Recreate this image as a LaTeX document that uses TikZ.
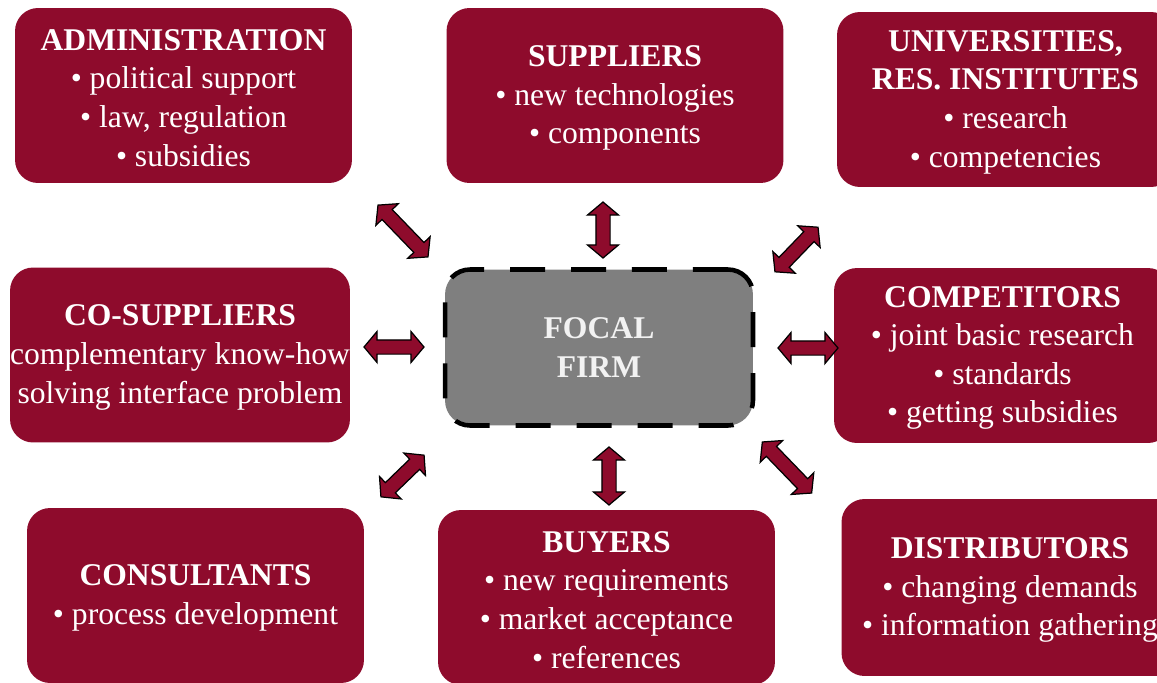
\documentclass[tikz,border=0pt]{standalone}
\usepackage{fontspec}
\setmainfont{Liberation Serif}
\usetikzlibrary{shapes.arrows}
\definecolor{firmred}{HTML}{8E0B2C}
\definecolor{focalgray}{HTML}{7F7F7F}
% heading line of a partner box (strut keeps the text block low enough)
\newcommand{\partyhead}[1]{\rule{0pt}{14.7pt}\textbf{#1}}

\begin{document}
\begin{tikzpicture}[
    x=0.02cm, y=-0.02cm, % one unit = one pixel of the layout
    font=\fontsize{18}{22}\selectfont,
    % --- STYLES ---
    party_box/.style={
        fill=firmred,
        rounded corners=0.46cm,
        minimum width=6.74cm, minimum height=3.5cm,
        inner sep=0pt,
        text=white, align=center
    },
    focal_box/.style={
        fill=focalgray, draw=black,
        line width=2.6pt, dash pattern=on 0.7cm off 0.52cm,
        rounded corners=0.5cm,
        minimum width=6.16cm, minimum height=3.12cm,
        text=white!95!black, align=center,
        font=\fontsize{18}{22}\selectfont\bfseries
    },
    link_arrow/.style={
        double arrow, draw=black, fill=firmred, line width=0.7pt,
        inner xsep=0pt, inner ysep=0.13cm, minimum width=0.6cm,
        double arrow head extend=0.17cm, double arrow tip angle=100
    }
]

% --- PAGE ---
\clip (0,0) rectangle (1157,683);

% --- PARTNER BOXES ---
% Top row
\node[party_box] (Adm) at (183.5,95.5) {%
    \partyhead{ADMINISTRATION}\\ • political support\\ • law, regulation\\ • subsidies};
\node[party_box] (Sup) at (615,95.5) {%
    \partyhead{SUPPLIERS}\\ • new technologies\\ • components};
\node[party_box] (Uni) at (1005.5,99.5) {%
    \partyhead{UNIVERSITIES,}\\ \textbf{RES. INSTITUTES}\\ • research\\ • competencies};
% Middle row
\node[party_box] (CoSup) at (180,355) {%
    \partyhead{CO-SUPPLIERS}\\ complementary know-how\\ solving interface problem};
\node[party_box] (Comp) at (1002.5,355.5) {%
    \partyhead{COMPETITORS}\\ • joint basic research\\ • standards\\ • getting subsidies};
% Bottom row
\node[party_box] (Cons) at (195.5,595.5) {%
    \partyhead{CONSULTANTS}\\ • process development};
\node[party_box] (Buy) at (606.5,597.5) {%
    \partyhead{BUYERS}\\ • new requirements\\ • market acceptance\\ • references};
\node[party_box, minimum height=3.54cm] (Dist) at (1010,587.5) {%
    \partyhead{DISTRIBUTORS}\\ • changing demands\\ • information gathering};

% --- FOCAL FIRM ---
\node[focal_box] (Focal) at (599,347.5) {FOCAL\\FIRM};

% --- LINK ARROWS ---
\node[link_arrow, minimum height=1.44cm, rotate=-46] (Adm_link) at (403,231) {};
\node[link_arrow, minimum height=1.12cm, rotate=90] (Sup_link) at (603,230) {};
\node[link_arrow, minimum height=1.24cm, rotate=46] (Uni_link) at (796.5,249.5) {};
\node[link_arrow, minimum height=1.2cm] (CoSup_link) at (394,347) {};
\node[link_arrow, minimum height=1.2cm] (Comp_link) at (808,348) {};
\node[link_arrow, minimum height=1.2cm, rotate=44] (Cons_link) at (402.5,476) {};
\node[link_arrow, minimum height=1.16cm, rotate=90] (Buy_link) at (609,476) {};
\node[link_arrow, minimum height=1.42cm, rotate=-46] (Dist_link) at (787,467.5) {};

\end{tikzpicture}
\end{document}
